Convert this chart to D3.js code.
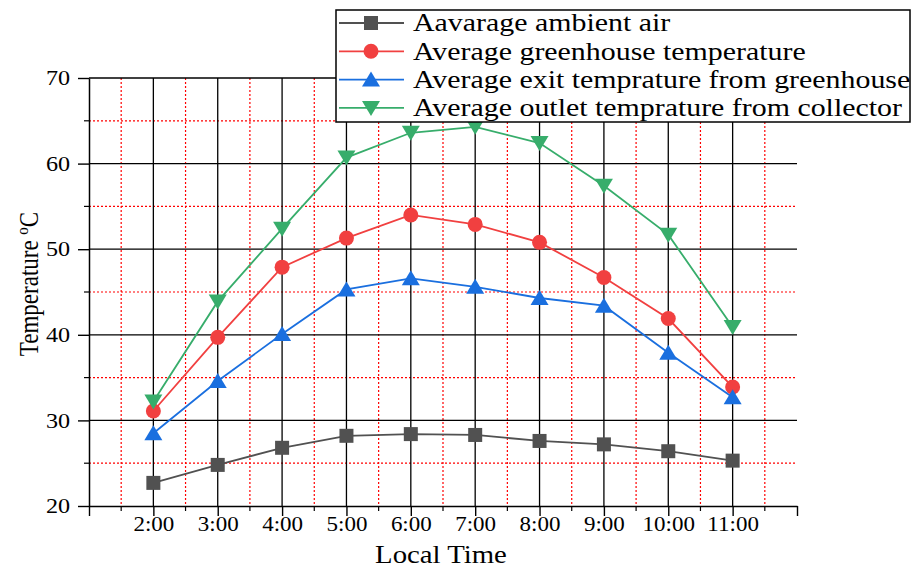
<!DOCTYPE html>
<html lang="en">
<head>
<meta charset="UTF-8">
<title>Temperature vs local time</title>
<style>
  * { margin: 0; padding: 0; }
  body { background: #fff; }
  text { font-family: "Liberation Serif", "Times New Roman", serif; }
</style>
</head>
<body>
<div id="chart"></div>
<script src="https://cdn.jsdelivr.net/npm/d3@7"></script>
<script>
// hours on the x axis (2:00 .. 11:00)
var hours = [2, 3, 4, 5, 6, 7, 8, 9, 10, 11];
var hourLabels = ["2:00", "3:00", "4:00", "5:00", "6:00", "7:00", "8:00", "9:00", "10:00", "11:00"];

var ambient    = [22.7, 24.8, 26.8, 28.2, 28.4, 28.3, 27.6, 27.2, 26.4, 25.3];
var greenhouse = [31.1, 39.7, 47.9, 51.3, 54.0, 52.9, 50.8, 46.7, 41.9, 33.9];
var exitTemp   = [28.5, 34.6, 40.1, 45.3, 46.6, 45.6, 44.3, 43.4, 37.9, 32.7];
var outlet     = [32.2, 43.9, 52.4, 60.7, 63.6, 64.3, 62.4, 57.4, 51.7, 40.9];

var yTicks = [20, 30, 40, 50, 60, 70];
var yMinor = [25, 35, 45, 55, 65];

var series = [
  {name: "Aavarage ambient air", values: ambient, color: "#515151", shape: "square"},
  {name: "Average greenhouse temperature", values: greenhouse, color: "#F14040", shape: "circle"},
  {name: "Average exit temprature from greenhouse", values: exitTemp, color: "#1A6FDF", shape: "up"},
  {name: "Average outlet temprature from collector", values: outlet, color: "#37AD6B", shape: "down"}
];

var W = 912, H = 570;
var pL = 89, pR = 797, pT = 78, pB = 506;
var SX = 1.15; // the original text is a bit wider than Liberation Serif

var svg = d3.select("#chart").append("svg").attr("width", W).attr("height", H);

var x = d3.scaleLinear().domain([1, 12]).range([pL, pR]);
var y = d3.scaleLinear().domain([20, 70]).range([pB, pT]);

// grid: red dotted minor lines first, black major lines on top
var grid = svg.append("g");
var xMinor = d3.range(1.5, 12, 1);
grid.selectAll(".vminor").data(xMinor).enter().append("line")
  .attr("x1", d => x(d)).attr("x2", d => x(d)).attr("y1", pT).attr("y2", pB)
  .attr("stroke", "#ff0000").attr("stroke-width", 1.2).attr("stroke-dasharray", "2,2");
grid.selectAll(".hminor").data(yMinor).enter().append("line")
  .attr("x1", pL).attr("x2", pR).attr("y1", d => y(d)).attr("y2", d => y(d))
  .attr("stroke", "#ff0000").attr("stroke-width", 1.2).attr("stroke-dasharray", "2,2");
grid.selectAll(".vmajor").data(hours).enter().append("line")
  .attr("x1", d => x(d)).attr("x2", d => x(d)).attr("y1", pT).attr("y2", pB)
  .attr("stroke", "#000").attr("stroke-width", 1.3);
grid.selectAll(".hmajor").data(yTicks.slice(1)).enter().append("line")
  .attr("x1", pL).attr("x2", pR).attr("y1", d => y(d)).attr("y2", d => y(d))
  .attr("stroke", "#000").attr("stroke-width", 1.3);

// axes
var xAxis = d3.axisBottom(x).tickValues(d3.range(1, 13)).tickSize(10).tickSizeOuter(0)
  .tickFormat(d => { var i = hours.indexOf(d); return i < 0 ? "" : hourLabels[i]; });
var gx = svg.append("g").attr("transform", "translate(0," + pB + ")").call(xAxis);
gx.select(".domain").attr("stroke-width", 1.5);
gx.selectAll(".tick line").attr("stroke-width", 1.4);
gx.selectAll("text").attr("font-size", 20).attr("fill", "#000")
  .attr("dy", "0.71em").attr("y", 11).attr("transform", "scale(" + SX + ",1)");
svg.append("g").selectAll("line").data(xMinor).enter().append("line")
  .attr("x1", d => x(d)).attr("x2", d => x(d)).attr("y1", pB).attr("y2", pB + 5)
  .attr("stroke", "#000").attr("stroke-width", 1.2);

var yAxis = d3.axisLeft(y).tickValues(yTicks).tickSize(11).tickSizeOuter(0);
var gy = svg.append("g").attr("transform", "translate(" + pL + ",0)").call(yAxis);
gy.select(".domain").attr("stroke-width", 1.5);
gy.selectAll(".tick line").attr("stroke-width", 1.4);
gy.selectAll("text").attr("font-size", 21).attr("fill", "#000")
  .attr("x", -19 / SX).attr("transform", "scale(" + SX + ",1)");
svg.append("g").selectAll("line").data(yMinor).enter().append("line")
  .attr("x1", pL - 5).attr("x2", pL).attr("y1", d => y(d)).attr("y2", d => y(d))
  .attr("stroke", "#000").attr("stroke-width", 1.2);

// axis titles
svg.append("text").attr("transform", "translate(" + ((pL + pR) / 2 - 2) + ",563) scale(" + SX + ",1)")
  .attr("text-anchor", "middle").attr("font-size", 25).text("Local Time");
var yl = svg.append("text").attr("transform", "translate(38,284) rotate(-90) scale(1,1.15)")
  .attr("text-anchor", "middle").attr("font-size", 23);
yl.append("tspan").text("Temperature ");
yl.append("tspan").attr("font-size", 15).attr("dy", -9).text("o");
yl.append("tspan").attr("dy", 9).text("C");

function marker(sel, shape, color) {
  if (shape === "square") {
    sel.append("rect").attr("x", -7).attr("y", -7).attr("width", 14).attr("height", 14).attr("fill", color);
  } else if (shape === "circle") {
    sel.append("circle").attr("r", 7.5).attr("fill", color);
  } else if (shape === "up") {
    sel.append("path").attr("d", "M0,-8L9,7L-9,7Z").attr("fill", color);
  } else {
    sel.append("path").attr("d", "M0,8L9,-7L-9,-7Z").attr("fill", color);
  }
}

var line = d3.line().x((d, i) => x(hours[i])).y(d => y(d));

series.forEach(function (s) {
  var g = svg.append("g");
  g.append("path").datum(s.values).attr("d", line)
    .attr("fill", "none").attr("stroke", s.color).attr("stroke-width", 1.8);
  g.selectAll(".m").data(s.values).enter().append("g")
    .attr("transform", (d, i) => "translate(" + x(hours[i]) + "," + y(d) + ")")
    .each(function () { marker(d3.select(this), s.shape, s.color); });
});

// legend
var lg = svg.append("g");
lg.append("rect").attr("x", 336).attr("y", 10).attr("width", 574).attr("height", 112)
  .attr("fill", "#fff").attr("stroke", "#000").attr("stroke-width", 1.5);
series.forEach(function (s, i) {
  var cy = 23 + i * 28.3;
  var row = lg.append("g");
  row.append("line").attr("x1", 339).attr("x2", 404).attr("y1", cy).attr("y2", cy)
    .attr("stroke", s.color).attr("stroke-width", 1.8);
  var m = row.append("g").attr("transform", "translate(371," + cy + ")");
  marker(m, s.shape, s.color);
  row.append("text").attr("transform", "translate(413," + cy + ") scale(" + SX + ",1)")
    .attr("dy", "0.32em").attr("font-size", 26).text(s.name);
});
</script>
</body>
</html>
